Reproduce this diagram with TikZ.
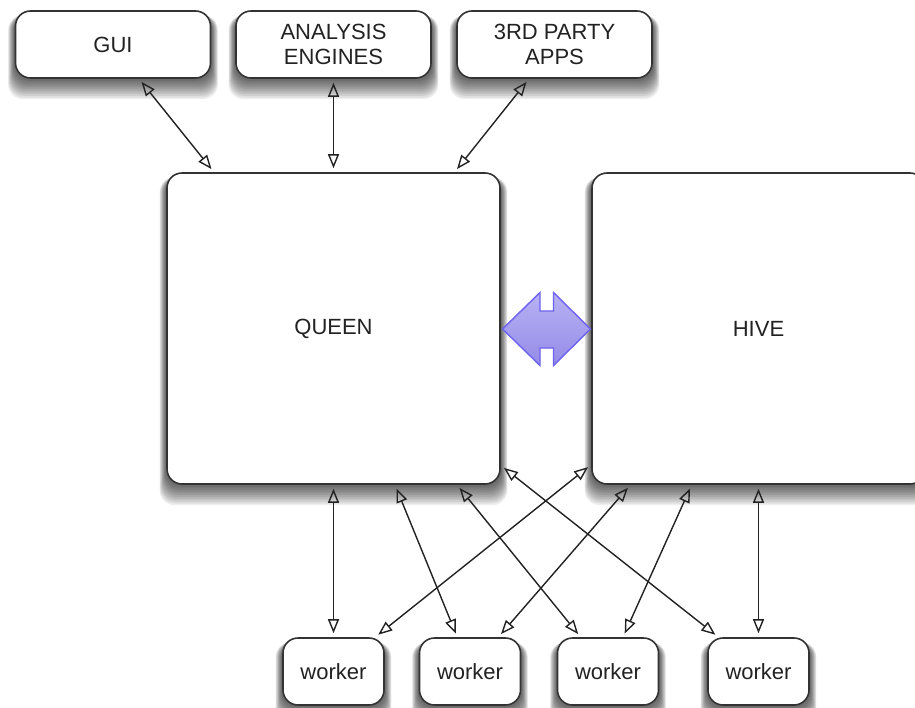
\documentclass[tikz,border=0pt]{standalone}
\usepackage{fontspec}
\setmainfont{Liberation Sans}
\usetikzlibrary{arrows.meta,backgrounds}
\definecolor{edgegray}{HTML}{333333}
\definecolor{inkgray}{HTML}{222222}
\definecolor{linkfilltop}{HTML}{B7B1F3}
\definecolor{linkfillbot}{HTML}{958CE8}
\definecolor{linkedge}{HTML}{6E62F0}
\begin{document}
\begin{tikzpicture}[x=1pt,y=-1pt,
  box/.style={draw=edgegray, line width=1.6pt, rounded corners=15pt, fill=white,
    font=\fontsize{22}{25.5}\selectfont, text=inkgray, inner sep=0pt, align=center},
  topbox/.style={box, minimum width=195pt, minimum height=67pt},
  bigbox/.style={box, minimum width=333pt, minimum height=311pt},
  workerbox/.style={box, minimum width=101pt, minimum height=67pt},
  shadowlayer/.style={fill=black, fill opacity=0.065, rounded corners=15pt},
  link/.style={draw=inkgray, line width=1.4pt,
    {Triangle[open,length=14pt,width=11pt]}-{Triangle[open,length=14pt,width=11pt]},
    shorten <=4pt, shorten >=4pt}]
\clip (0,0) rectangle (915,707);

% clients
\node[topbox] (gui)  at (113,44.5)   {GUI};
\node[topbox] (ana)  at (333.5,44.5) {ANALYSIS\\ENGINES};
\node[topbox] (apps) at (554.5,44.5) {3RD PARTY\\APPS};

% core
\node[bigbox] (queen) at (333.5,328.5) {QUEEN};
\node[bigbox] (hive)  at (758.5,328.5) {HIVE};

% workers
\node[workerbox] (w1) at (333.5,671.5) {worker};
\node[workerbox] (w2) at (470,671.5)   {worker};
\node[workerbox] (w3) at (608,671.5)   {worker};
\node[workerbox] (w4) at (758.5,671.5) {worker};

% soft drop shadows behind every box
\begin{scope}[on background layer]
  \fill[white] (0,0) rectangle (915,707);
  \foreach \n in {gui,ana,apps,queen,hive,w1,w2,w3,w4}
    \foreach \k in {1,...,12}
      \path[shadowlayer]
        ([xshift=-0.55*\k pt, yshift=-5pt]\n.north west)
        rectangle ([xshift=0.55*\k pt, yshift=-1.7*\k pt]\n.south east);
\end{scope}

% clients <-> queen
\draw[link] ([xshift=26pt]gui.south)   -- ([xshift=-119.5pt]queen.north);
\draw[link] (ana.south)                -- (queen.north);
\draw[link] ([xshift=-25.5pt]apps.south) -- ([xshift=121pt]queen.north);

% queen <-> workers
\draw[link] (queen.south) -- (w1.north);
\draw[link] ([xshift=61.5pt]queen.south)  -- ([xshift=-12.7pt]w2.north);
\draw[link] ([xshift=123.5pt]queen.south) -- ([xshift=-27.3pt]w3.north);
\draw[link] ([yshift=19.4pt]queen.south east) -- ([xshift=-40pt]w4.north);

% hive <-> workers
\draw[link] ([yshift=20.2pt]hive.south west) -- ([xshift=41.6pt]w1.north);
\draw[link] ([xshift=-128pt]hive.south) -- ([xshift=28.3pt]w2.north);
\draw[link] ([xshift=-66.8pt]hive.south) -- ([xshift=15pt]w3.north);
\draw[link] (hive.south) -- (w4.north);

% queen <-> hive double arrow
\draw[draw=linkedge, line width=1.4pt, line join=miter, top color=linkfilltop, bottom color=linkfillbot]
  (502.5,329) -- (540,292.5) -- (540,311) -- (553.5,311) -- (553.5,292.5)
  -- (590.5,329) -- (553.5,365.5) -- (553.5,348) -- (540,348) -- (540,365.5) -- cycle;
\end{tikzpicture}
\end{document}
